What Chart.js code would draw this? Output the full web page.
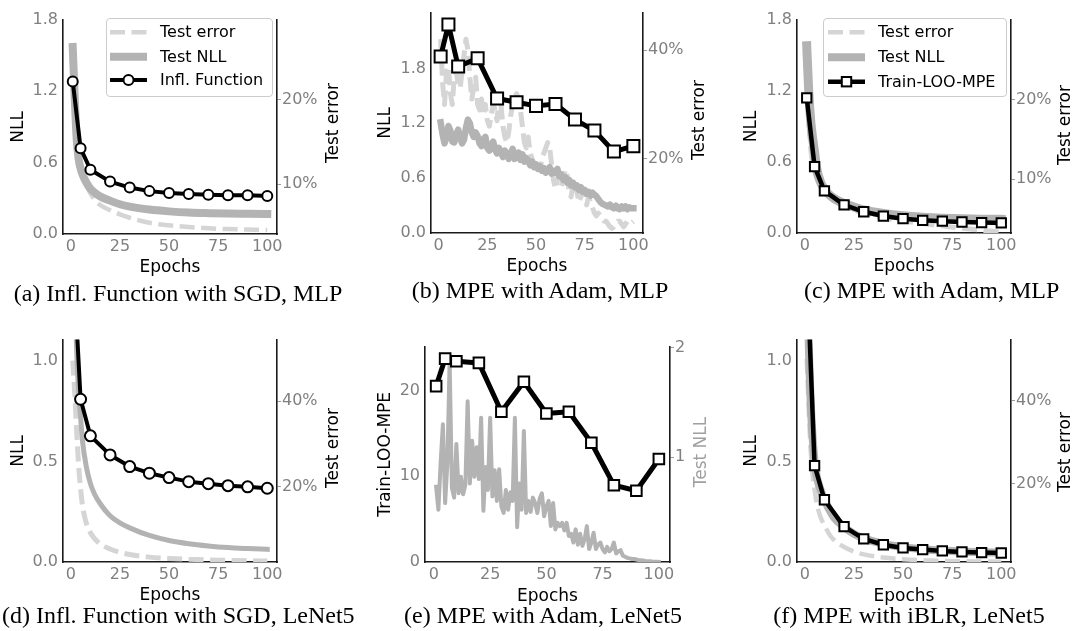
<!DOCTYPE html>
<html><head><meta charset="utf-8">
<script src="https://cdn.jsdelivr.net/npm/chart.js@4.4.1/dist/chart.umd.min.js"></script>
<style>
html,body{margin:0;padding:0;background:#fff;}
body{width:1073px;height:631px;position:relative;overflow:hidden;}
canvas{position:absolute;}
.cap{position:absolute;font-family:"Liberation Serif","Times New Roman",serif;font-size:24px;color:#000;white-space:nowrap;transform:translate(-50%,-50%);line-height:1;}
.rt{position:absolute;font-family:"DejaVu Sans";font-size:17px;white-space:nowrap;transform:translate(-50%,-50%) rotate(-90deg);line-height:1;}
.leg{position:absolute;border:1px solid #cccccc;border-radius:4px;background:rgba(255,255,255,0.85);box-sizing:border-box;z-index:5;}
.leg span{position:absolute;font-family:"DejaVu Sans";font-size:16px;color:#000;white-space:nowrap;transform:translateY(-50%);line-height:1;}
</style></head><body>
<script>
// ---------- data ----------
const markerEpochs = [1,5,10,20,30,40,50,60,70,80,90,100];
const xTickValues = [0,25,50,75,100];
const curveEpochs = [1,2,3,4,5,6,8,10,12,15,20,25,30,40,50,60,70,80,90,100];
const allEpochs = Array.from({length:100},(_,i)=>i+1);

// (a) Infl. Function with SGD, MLP
const aInfl = [1.28,0.72,0.54,0.44,0.39,0.36,0.345,0.335,0.33,0.326,0.325,0.32];
const aNll  = [1.57,1.15,0.8,0.63,0.55,0.5,0.43,0.38,0.35,0.315,0.28,0.25,0.23,0.205,0.19,0.18,0.175,0.172,0.17,0.168];
const aErr  = [25,19,15,13,11.8,11,9.8,8.9,8.2,7.5,6.9,6.4,6.0,5.4,5.1,4.9,4.75,4.65,4.6,4.55];

// (b) MPE with Adam, MLP
const bMpe = [1.93,2.28,1.82,1.91,1.47,1.43,1.39,1.41,1.24,1.12,0.89,0.95];
const bNll = [1.21,1.08,0.98,1.05,1.17,1.12,1.00,0.99,1.08,1.13,
 1.05,0.98,1.02,1.15,1.24,1.20,1.10,1.05,1.10,1.06,
 0.98,0.95,1.03,1.05,0.93,0.90,0.96,1.00,0.91,0.87,
 0.93,0.88,0.83,0.90,0.87,0.81,0.86,0.92,0.81,0.83,
 0.88,0.80,0.86,0.78,0.82,0.79,0.74,0.78,0.72,0.75,
 0.70,0.73,0.68,0.71,0.66,0.69,0.72,0.65,0.68,0.66,
 0.70,0.62,0.64,0.58,0.61,0.55,0.58,0.52,0.55,0.50,
 0.52,0.47,0.50,0.45,0.47,0.43,0.45,0.41,0.44,0.42,
 0.40,0.37,0.34,0.32,0.31,0.30,0.29,0.31,0.28,0.27,
 0.30,0.27,0.26,0.29,0.27,0.29,0.26,0.28,0.27,0.27];
const bErr = [42,34,30,36,37,32,30,35,36,34,
 33,36,39,42,40,35,31,33,35,30,
 29,31,28,30,27,26,28,30,29,27,
 32,30,26,24,23,25,28,30,31,32,
 31,29,26,23,22,24,21,20,19,20,
 19,18,20,21,22,23,22,19,16,14.5,
 16,17,15,16,18,17,14,13,15,16,
 14,12,13,14,12.5,11.5,13,12,11,10,
 9.5,10,9.5,9,8.5,8.5,8,7.5,7.2,7.5,
 8,8.5,8.5,8,7.5,8,8.6,8.3,8.2,8.5];

// (c) MPE with Adam, MLP
const cMpe = [1.14,0.56,0.355,0.237,0.179,0.143,0.121,0.107,0.1,0.093,0.088,0.085];
const cNll = [1.58,1.2,0.95,0.8,0.68,0.55,0.43,0.37,0.33,0.29,0.25,0.22,0.195,0.165,0.145,0.133,0.125,0.12,0.117,0.115];
const cErr = [25,18,14,12,11,10.2,9.2,8.5,7.9,7.3,6.6,6.1,5.7,5.1,4.7,4.4,4.1,3.8,3.55,3.3];

// (d) Infl. Function with SGD, LeNet5
const dInfl = [1.55,0.81,0.628,0.533,0.475,0.442,0.42,0.40,0.39,0.38,0.374,0.367];
const dNll = [2.0,1.4,1.05,0.85,0.72,0.6,0.47,0.39,0.34,0.29,0.23,0.195,0.17,0.132,0.107,0.091,0.08,0.072,0.067,0.063];
const dErr = [49.5,42,33,25,19.5,15.5,11.3,9.2,7.9,6.6,5.4,4.6,4.1,3.5,3.2,3.0,2.85,2.75,2.65,2.6];

// (e) MPE with Adam, LeNet5
const eMpe = [20.5,23.7,23.4,23.2,17.5,21.0,17.3,17.5,13.9,8.95,8.3,12.0];
const eNll = [0.73,0.52,0.95,1.30,0.58,0.95,1.88,0.72,0.63,1.12,
 0.67,0.82,0.66,0.75,1.51,0.76,1.15,0.82,1.09,0.80,
 1.36,0.51,0.91,0.70,1.36,0.64,0.88,0.60,0.89,0.55,
 0.49,0.70,0.52,0.68,0.60,1.36,0.36,0.76,0.52,1.24,
 0.49,0.60,0.50,0.63,0.58,0.49,0.62,0.67,0.46,0.55,
 0.60,0.37,0.58,0.34,0.40,0.37,0.40,0.33,0.40,0.28,
 0.30,0.22,0.34,0.20,0.30,0.19,0.25,0.37,0.16,0.22,
 0.31,0.16,0.20,0.22,0.16,0.13,0.18,0.14,0.16,0.22,
 0.12,0.14,0.15,0.10,0.09,0.08,0.075,0.07,0.07,0.065,
 0.06,0.058,0.055,0.052,0.05,0.048,0.046,0.045,0.044,0.043];

// (f) MPE with iBLR, LeNet5
const fMpe = [1.5,0.48,0.31,0.176,0.115,0.086,0.07,0.062,0.055,0.05,0.047,0.045];
const fNll = [1.6,1.1,0.8,0.62,0.5,0.43,0.36,0.31,0.27,0.22,0.175,0.14,0.118,0.09,0.074,0.064,0.057,0.052,0.049,0.047];
const fErrEpochs = [1,2,3,4,5,6,8,10,13,16,20,25,30,40,50,60,70,80,90,100];
const fErr = [50,38,28,22,18.5,15.5,12,10,7.5,6.0,4.8,3.7,3.0,2.25,1.85,1.6,1.45,1.35,1.3,1.25];

const nllTicks = [0,0.6,1.2,1.8];
const nllTicksL = [0,0.5,1.0];
const mpeTicksE = [0,10,20];
const errTicksMLP = [10,20];
const errTicks40 = [20,40];
const nllTicksE = [1,2];

// ---------- helpers ----------
const P = (xs, ys) => ys.map((y,i)=>({x:xs[i], y:y}));
const BLACK='#000000', GRAY='#b3b3b3', LIGHT='#d5d5d5', TICKC='#808080';
Chart.defaults.font.family = 'DejaVu Sans';

function markerSet(ys, style, r, lw){
  return {data:P(markerEpochs, ys), yAxisID:'y', borderColor:BLACK, borderWidth:lw,
    pointStyle:style, pointRadius:r, pointHoverRadius:r, pointBackgroundColor:'#fff',
    pointBorderColor:BLACK, pointBorderWidth:2, borderJoinStyle:'round', borderCapStyle:'square', tension:0};
}
function solidSet(xs, ys, axis, lw, color, smooth){
  return {data:P(xs, ys), yAxisID:axis, borderColor:color, borderWidth:lw, pointRadius:0,
    borderJoinStyle:'round', borderCapStyle:'square', tension: smooth?0.4:0,
    cubicInterpolationMode: smooth?'monotone':'default'};
}
function dashSet(xs, ys, axis, lw, smooth){
  return {data:P(xs, ys), yAxisID:axis, borderColor:LIGHT, borderWidth:lw, pointRadius:0,
    borderDash:[15,6.5], borderCapStyle:'butt', borderJoinStyle:'round', tension: smooth?0.4:0,
    cubicInterpolationMode: smooth?'monotone':'default'};
}
const PADL=62, PADR=75, PADT=10, PADB=60;
const XMIN=-3.95, XMAX=104.95;
const TICKSIZE=16;

function makeChart(p){
  const [L,T,R,B] = p.box;
  const W = (R-L)+PADL+PADR, H = (B-T)+PADT+PADB;
  const cv = document.createElement('canvas');
  cv.width=W; cv.height=H;
  cv.style.left=(L-PADL)+'px'; cv.style.top=(T-PADT)+'px';
  cv.style.width=W+'px'; cv.style.height=H+'px';
  document.body.appendChild(cv);
  const setTicks = vals => s => { s.ticks = vals.map(v=>({value:v})); };
  new Chart(cv, {
    type:'line',
    data:{datasets:p.datasets},
    options:{
      responsive:false, animation:false, devicePixelRatio:1,
      layout:{padding:{top:PADT,left:0,right:0,bottom:0}},
      plugins:{legend:{display:false}, tooltip:{enabled:false}},
      scales:{
        x:{type:'linear', min:XMIN, max:XMAX,
           grid:{display:false, drawTicks:false},
           border:{display:true, color:'#1a1a1a', width:1.6},
           ticks:{color:TICKC, font:{size:TICKSIZE}, padding:3, maxRotation:0, autoSkip:false},
           afterBuildTicks:setTicks(xTickValues),
           title:{display:true, text:'Epochs', color:'#000', font:{size:17}, padding:{top:0,bottom:p.xtPad}},
           afterFit:s=>{s.height=PADB;}},
        y:{type:'linear', position:'left', min:p.y[0], max:p.y[1],
           grid:{display:false, drawTicks:false},
           border:{display:true, color:'#1a1a1a', width:1.6},
           ticks:{color:TICKC, font:{size:TICKSIZE}, padding:5, callback:p.yFmt},
           afterBuildTicks:setTicks(p.yTicks),
           title:{display:true, text:p.yTitle, color:'#000', font:{size:17}, padding:{top:p.ytPad,bottom:0}},
           afterFit:s=>{s.width=PADL;}},
        y2:{type:'linear', position:'right', min:p.y2[0], max:p.y2[1],
           grid:{display:true, drawOnChartArea:false, drawTicks:true, tickLength:4, color:'#9a9a9a', lineWidth:1},
           border:{display:true, color:'#1a1a1a', width:1.6},
           ticks:{color:TICKC, font:{size:TICKSIZE}, padding:1, callback:p.y2Fmt},
           afterBuildTicks:setTicks(p.y2Ticks),
           afterFit:s=>{s.width=PADR;}}
      }
    }
  });
}
const f1 = v => Number(v).toFixed(1);
const f0 = v => String(Math.round(v));
const pct = v => Math.round(v)+'%';

const panels = [
 {box:[63,15,277,234], y:[0,1.8], yTicks:nllTicks, yFmt:f1, yTitle:'NLL', ytPad:7, xtPad:16.5,
  y2:[4.07,29.5], y2Ticks:errTicksMLP, y2Fmt:pct,
  datasets:[markerSet(aInfl,'circle',5,4), solidSet(curveEpochs,aNll,'y',8,GRAY,true), dashSet(curveEpochs,aErr,'y2',4.5,true)]},
 {box:[431,8,643,233], y:[0,2.41], yTicks:nllTicks, yFmt:f1, yTitle:'NLL', ytPad:6, xtPad:16,
  y2:[6.35,46.9], y2Ticks:errTicks40, y2Fmt:pct,
  datasets:[markerSet(bMpe,'rect',8.5,5), solidSet(allEpochs,bNll,'y',6.5,GRAY,false), dashSet(allEpochs,bErr,'y2',5,false)]},
 {box:[797,15,1011,233], y:[0,1.8], yTicks:nllTicks, yFmt:f1, yTitle:'NLL', ytPad:6.5, xtPad:16,
  y2:[3.2,30.1], y2Ticks:errTicksMLP, y2Fmt:pct,
  datasets:[markerSet(cMpe,'rect',6.6,4.5), solidSet(curveEpochs,cNll,'y',9,GRAY,true), dashSet(curveEpochs,cErr,'y2',5,true)]},
 {box:[63,335,277,562], y:[0,1.107], yTicks:nllTicksL, yFmt:f1, yTitle:'NLL', ytPad:7, xtPad:16.5,
  y2:[2.36,54.4], y2Ticks:errTicks40, y2Fmt:pct,
  datasets:[markerSet(dInfl,'circle',5.5,4), solidSet(curveEpochs,dNll,'y',5,GRAY,true), dashSet(curveEpochs,dErr,'y2',5,true)]},
 {box:[425,342,670,562], y:[0,25.1], yTicks:mpeTicksE, yFmt:f0, yTitle:'Train-LOO-MPE', ytPad:12, xtPad:15,
  y2:[0.042,2.01], y2Ticks:nllTicksE, y2Fmt:f0,
  datasets:[markerSet(eMpe,'rect',7.5,5), solidSet(allEpochs,eNll,'y2',4,GRAY,false)]},
 {box:[797,335,1011,562], y:[0,1.107], yTicks:nllTicksL, yFmt:f1, yTitle:'NLL', ytPad:6.5, xtPad:15,
  y2:[1.18,54.6], y2Ticks:errTicks40, y2Fmt:pct,
  datasets:[markerSet(fMpe,'rect',6.6,4.5), solidSet(curveEpochs,fNll,'y',8,GRAY,true), dashSet(fErrEpochs,fErr,'y2',4.5,true)]}
];
panels.forEach(makeChart);

// ---------- text ----------
function addText(cls, txt, x, y, color){
  const d=document.createElement('div'); d.className=cls; d.textContent=txt;
  d.style.left=x+'px'; d.style.top=y+'px'; if(color) d.style.color=color;
  document.body.appendChild(d);
}
addText('rt','Test error',331.7,123);
addText('rt','Test error',698.3,120);
addText('rt','Test error',1063.5,125);
addText('rt','Test error',331.7,448);
addText('rt','Test NLL',700,451.7,'#a0a0a0');
addText('rt','Test error',1063.5,451.7);

addText('cap','(a) Infl. Function with SGD, MLP',178,293);
addText('cap','(b) MPE with Adam, MLP',540,290);
addText('cap','(c) MPE with Adam, MLP',931.7,290);
addText('cap','(d) Infl. Function with SGD, LeNet5',178.3,615);
addText('cap','(e) MPE with Adam, LeNet5',543,615);
addText('cap','(f) MPE with iBLR, LeNet5',909,615);

// ---------- legends ----------
function legend(spec){
  const d=document.createElement('div'); d.className='leg';
  d.style.left=spec.x+'px'; d.style.top=spec.y+'px';
  d.style.width=spec.w+'px'; d.style.height=spec.h+'px';
  let svg=`<svg width="${spec.w}" height="${spec.h}" style="position:absolute;left:-1px;top:-1px">`;
  const x0=spec.sx0-spec.x, x1=spec.sx1-spec.x, xm=(x0+x1)/2;
  spec.rows.forEach(r=>{
    const y=r.cy-spec.y;
    if(r.kind==='dash') svg+=`<line x1="${x0}" y1="${y}" x2="${x1}" y2="${y}" stroke="${LIGHT}" stroke-width="4.5" stroke-dasharray="15 6.5"/>`;
    if(r.kind==='solid') svg+=`<line x1="${x0}" y1="${y}" x2="${x1}" y2="${y}" stroke="${GRAY}" stroke-width="8"/>`;
    if(r.kind==='circle') svg+=`<line x1="${x0}" y1="${y}" x2="${x1}" y2="${y}" stroke="#000" stroke-width="4"/><circle cx="${xm}" cy="${y}" r="5" fill="#fff" stroke="#000" stroke-width="2"/>`;
    if(r.kind==='rect') svg+=`<line x1="${x0}" y1="${y}" x2="${x1}" y2="${y}" stroke="#000" stroke-width="4.5"/><rect x="${xm-4.7}" y="${y-4.7}" width="9.4" height="9.4" fill="#fff" stroke="#000" stroke-width="2"/>`;
  });
  svg+='</svg>';
  d.innerHTML=svg;
  spec.rows.forEach(r=>{
    const s=document.createElement('span'); s.textContent=r.label;
    s.style.left=(spec.tx-spec.x)+'px'; s.style.top=(r.cy-spec.y-1)+'px';
    d.appendChild(s);
  });
  document.body.appendChild(d);
}
legend({x:106,y:18,w:167,h:79,sx0:110,sx1:147,tx:159,rows:[
  {cy:32.3,kind:'dash',label:'Test error'},
  {cy:56.7,kind:'solid',label:'Test NLL'},
  {cy:80,kind:'circle',label:'Infl. Function'}]});
legend({x:823,y:18,w:184,h:79,sx0:828,sx1:865,tx:877,rows:[
  {cy:32.3,kind:'dash',label:'Test error'},
  {cy:57.3,kind:'solid',label:'Test NLL'},
  {cy:81.7,kind:'rect',label:'Train-LOO-MPE'}]});
</script>
</body></html>
